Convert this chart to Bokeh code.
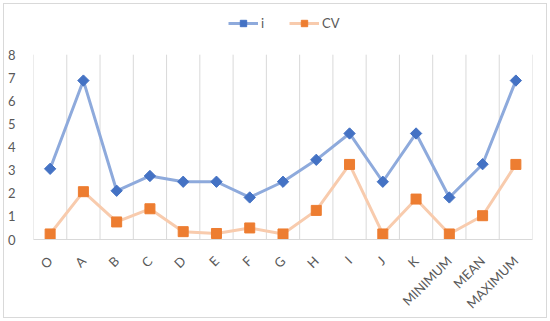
import math
from bokeh.plotting import figure
from bokeh.models import (Range1d, FixedTicker, Legend, LegendItem, ColumnDataSource)
from bokeh.embed import file_html
from bokeh.resources import INLINE

categories = ["O", "A", "B", "C", "D", "E", "F", "G", "H", "I", "J", "K",
              "MINIMUM", "MEAN", "MAXIMUM"]
i_values = [3.06, 6.88, 2.11, 2.75, 2.50, 2.50, 1.82, 2.50, 3.45, 4.59, 2.50, 4.59,
            1.82, 3.26, 6.88]
cv_values = [0.24, 2.07, 0.76, 1.33, 0.34, 0.26, 0.50, 0.24, 1.26, 3.25, 0.24, 1.75,
             0.24, 1.03, 3.25]
y_ticks = [0, 1, 2, 3, 4, 5, 6, 7, 8]
y_max = 8

n = len(categories)
xs = list(range(1, n + 1))
src = ColumnDataSource(dict(x=xs, i=i_values, cv=cv_values))
bounds = [k + 0.5 for k in range(0, n + 1)]
grid_src = ColumnDataSource(dict(x=bounds, y0=[0] * len(bounds), y1=[y_max] * len(bounds)))

p = figure(width=544, height=315, output_backend="svg", toolbar_location=None,
           x_range=Range1d(0.5, n + 0.5), y_range=Range1d(0, 10),
           min_border_left=29, min_border_right=16, min_border_top=4,
           min_border_bottom=75)
p.styles = {"margin": "3px", "border": "1px solid #d9d9d9"}
p.border_fill_color = "white"
p.outline_line_color = None
p.xgrid.grid_line_color = None
p.ygrid.grid_line_color = None

# vertical category-boundary gridlines, limited to the value range 0..8
p.segment(x0="x", y0="y0", x1="x", y1="y1", source=grid_src,
          line_color="#d9d9d9", line_width=1)

font = "Lato"
lab_color = "#595959"

p.xaxis.ticker = FixedTicker(ticks=xs)
p.xaxis.major_label_overrides = {x: c for x, c in zip(xs, categories)}
p.xaxis.major_label_orientation = math.pi / 4
p.xaxis.axis_line_color = "#d9d9d9"
p.xaxis.major_tick_line_color = None
p.xaxis.minor_tick_line_color = None
p.xaxis.major_label_text_font = font
p.xaxis.major_label_text_font_size = "13px"
p.xaxis.major_label_text_color = lab_color
p.xaxis.major_label_standoff = 13

p.yaxis.ticker = FixedTicker(ticks=y_ticks)
p.yaxis.axis_line_color = None
p.yaxis.major_tick_line_color = None
p.yaxis.minor_tick_line_color = None
p.yaxis.major_label_text_font = font
p.yaxis.major_label_text_font_size = "13px"
p.yaxis.major_label_text_color = lab_color
p.yaxis.major_label_standoff = 12

l1 = p.line("x", "i", source=src, line_color="#8eaadc", line_width=3)
m1 = p.scatter("x", "i", source=src, marker="square", angle=math.pi / 4, size=8,
               fill_color="#4472c4", line_color="#4472c4")
l2 = p.line("x", "cv", source=src, line_color="#f8cbad", line_width=3)
m2 = p.scatter("x", "cv", source=src, marker="square", size=10,
               fill_color="#ed7d31", line_color="#ed7d31")

legend = Legend(items=[LegendItem(label="i", renderers=[l1, m1]),
                       LegendItem(label="CV", renderers=[l2, m2])],
                orientation="horizontal", location=(195, 208),
                border_line_color=None, background_fill_alpha=0,
                label_text_font=font, label_text_font_size="13px",
                label_text_color=lab_color, glyph_width=30, glyph_height=16,
                padding=2, margin=0, spacing=8, label_standoff=3)
p.add_layout(legend, "center")

open("out.html", "w").write(file_html(p, INLINE))
